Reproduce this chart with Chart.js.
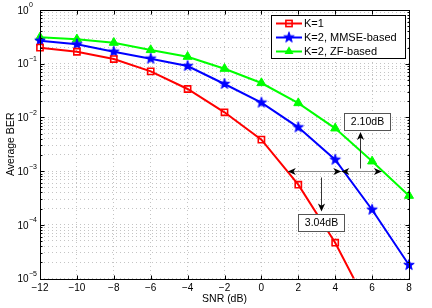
<!DOCTYPE html>
<html><head><meta charset="utf-8">
<script src="https://cdn.jsdelivr.net/npm/chart.js@4/dist/chart.umd.min.js"></script>
<style>html,body{margin:0;padding:0;background:#fff}canvas{display:block}</style>
</head><body>
<canvas id="c" width="432" height="308"></canvas>
<script>
// ---- data ----
const snr      = [-12, -10, -8, -6, -4, -2, 0, 2, 4, 6, 8];
const berK1    = [0.199, 0.167, 0.122, 0.072, 0.0338, 0.01245, 0.00385, 5.58e-4, 4.64e-5, 2.2e-6, null];
const berMMSE  = [0.268, 0.23, 0.167, 0.124, 0.0906, 0.0419, 0.0188, 0.00653, 0.00163, 1.91e-4, 1.78e-5];
const berZF    = [0.31, 0.285, 0.246, 0.18, 0.135, 0.0807, 0.0437, 0.0185, 0.00626, 0.00152, 3.48e-4];
const seriesNames = ['K=1', 'K=2, MMSE-based', 'K=2, ZF-based'];
const xTicks = [-12, -10, -8, -6, -4, -2, 0, 2, 4, 6, 8];
const yExponents = [0, -1, -2, -3, -4, -5];
const xTitle = 'SNR (dB)';
const yTitle = 'Average BER';
// gap annotation (BER level, SNR crossings, labels)
const gapLevel = 1e-3;
const crossK1 = 1.43, crossMMSE = 4.33, crossZF = 6.53;
const gapLabels = ['3.04dB', '2.10dB'];

const FONT = "'Liberation Sans', Arial, Helvetica, sans-serif";

function starImg(color, R) {
  const s = Math.ceil(R * 2 + 3);
  const c = document.createElement('canvas');
  c.width = c.height = s;
  const g = c.getContext('2d');
  g.fillStyle = color; g.strokeStyle = color; g.lineWidth = 1;
  const cx = s / 2, cy = s / 2, r = R * 0.4;
  g.beginPath();
  for (let i = 0; i < 10; i++) {
    const a = -Math.PI / 2 + i * Math.PI / 5;
    const rr = i % 2 ? r : R;
    g.lineTo(cx + rr * Math.cos(a), cy + rr * Math.sin(a));
  }
  g.closePath(); g.fill(); g.stroke();
  return c;
}
const blueStar = starImg('#0000ff', 5.5);

const clipBox = {left: 10, right: 10, top: 10, bottom: 0};
function pts(arr) { return snr.map((x, i) => ({x: x, y: arr[i]})); }

const datasets = [
  {label: seriesNames[0], data: pts(berK1), borderColor: '#ff0000', backgroundColor: 'rgba(0,0,0,0)',
   pointStyle: 'rect', pointRadius: 4.4, pointBorderWidth: 1.6, pointBorderColor: '#ff0000',
   pointBackgroundColor: 'rgba(0,0,0,0)', borderWidth: 2, clip: clipBox},
  {label: seriesNames[1], data: pts(berMMSE), borderColor: '#0000ff', backgroundColor: '#0000ff',
   pointStyle: blueStar, pointRadius: 5.5, borderWidth: 2, clip: clipBox},
  {label: seriesNames[2], data: pts(berZF), borderColor: '#00ff00', backgroundColor: '#00ff00',
   pointStyle: 'triangle', pointRadius: 5.2, pointBorderWidth: 1, pointBorderColor: '#00ff00',
   pointBackgroundColor: '#00ff00', borderWidth: 2, clip: clipBox}
];

function arrowHead(ctx, tx, ty, dx, dy) {
  const L = 8, W = 3.6;
  const px = -dy, py = dx;
  ctx.beginPath();
  ctx.moveTo(tx, ty);
  ctx.lineTo(tx - dx * L + px * W, ty - dy * L + py * W);
  ctx.lineTo(tx - dx * L * 0.72, ty - dy * L * 0.72);
  ctx.lineTo(tx - dx * L - px * W, ty - dy * L - py * W);
  ctx.closePath();
  ctx.fill();
}
function textBox(ctx, cx, cy, text) {
  ctx.font = '10.5px ' + FONT;
  const w = 46, h = 17;
  const x0 = Math.round(cx - w / 2) + 0.5, y0 = Math.round(cy - h / 2) + 0.5;
  ctx.fillStyle = '#fff';
  ctx.fillRect(x0, y0, w, h);
  ctx.strokeStyle = '#555'; ctx.lineWidth = 1;
  ctx.strokeRect(x0, y0, w, h);
  ctx.fillStyle = '#000'; ctx.textAlign = 'center'; ctx.textBaseline = 'middle';
  ctx.fillText(text, x0 + w / 2, y0 + h / 2 + 0.5);
  return {x0, y0, w, h};
}

const decor = {
  id: 'decor',
  afterDatasetsDraw(chart) {
    const ctx = chart.ctx, xs = chart.scales.x, ys = chart.scales.y;
    ctx.save();
    const yl = Math.round(ys.getPixelForValue(gapLevel)) + 0.5;
    const pK = xs.getPixelForValue(crossK1), pM = xs.getPixelForValue(crossMMSE), pZ = xs.getPixelForValue(crossZF);
    ctx.strokeStyle = '#8c8c8c'; ctx.lineWidth = 1;
    ctx.beginPath(); ctx.moveTo(pK, yl); ctx.lineTo(pZ, yl); ctx.stroke();
    ctx.fillStyle = '#000';
    arrowHead(ctx, pK, yl, -1, 0);
    arrowHead(ctx, pM, yl, 1, 0);
    arrowHead(ctx, pM, yl, -1, 0);
    arrowHead(ctx, pZ, yl, 1, 0);
    // label 1 (below)
    const b1 = textBox(ctx, xs.getPixelForValue(3.22), ys.getPixelForValue(1.11e-4), gapLabels[0]);
    const ax1 = Math.round(xs.getPixelForValue(3.25)) + 0.5;
    ctx.strokeStyle = '#333'; ctx.fillStyle = '#000';
    ctx.beginPath(); ctx.moveTo(ax1, yl + 6); ctx.lineTo(ax1, b1.y0 - 5); ctx.stroke();
    arrowHead(ctx, ax1, b1.y0 - 3, 0, 1);
    // label 2 (above)
    const b2 = textBox(ctx, xs.getPixelForValue(5.70), ys.getPixelForValue(8.3e-3), gapLabels[1]);
    const ax2 = Math.round(xs.getPixelForValue(5.37)) + 0.5;
    ctx.strokeStyle = '#333'; ctx.fillStyle = '#000';
    ctx.beginPath(); ctx.moveTo(ax2, yl - 3); ctx.lineTo(ax2, b2.y0 + b2.h + 4); ctx.stroke();
    arrowHead(ctx, ax2, b2.y0 + b2.h + 1.5, 0, -1);
    ctx.restore();
  },
  afterDraw(chart) {
    const ctx = chart.ctx, xs = chart.scales.x, ys = chart.scales.y, a = chart.chartArea;
    ctx.save();
    const L = Math.round(a.left) + 0.5, R = Math.round(a.right) + 0.5, T = Math.round(a.top) + 0.5, B = Math.round(a.bottom) + 0.5;
    // ticks
    ctx.strokeStyle = '#000'; ctx.lineWidth = 1;
    ctx.beginPath();
    xTicks.forEach(v => {
      const x = Math.round(xs.getPixelForValue(v)) + 0.5;
      ctx.moveTo(x, B); ctx.lineTo(x, B - 4);
      ctx.moveTo(x, T); ctx.lineTo(x, T + 4);
    });
    yExponents.forEach(e => {
      for (let m = 1; m <= 9; m++) {
        if (e === 0 && m > 1) break;
        const v = m * Math.pow(10, e);
        const y = Math.round(ys.getPixelForValue(v)) + 0.5;
        const len = m === 1 ? 4 : 2;
        ctx.moveTo(L, y); ctx.lineTo(L + len, y);
        ctx.moveTo(R, y); ctx.lineTo(R - len, y);
      }
    });
    ctx.stroke();
    // box
    ctx.strokeRect(L, T, R - L, B - T);
    // x tick labels
    ctx.fillStyle = '#000';
    ctx.font = '10px ' + FONT; ctx.textAlign = 'center'; ctx.textBaseline = 'middle';
    xTicks.forEach(v => {
      const s = v < 0 ? '\u2212' + Math.abs(v) : String(v);
      ctx.fillText(s, xs.getPixelForValue(v), B + 9);
    });
    // y tick labels
    yExponents.forEach(e => {
      const y = ys.getPixelForValue(Math.pow(10, e));
      ctx.font = '10px ' + FONT; ctx.textAlign = 'right'; ctx.textBaseline = 'middle';
      ctx.fillText('10', 28.5, y + 1);
      ctx.font = '7px ' + FONT; ctx.textAlign = 'left';
      const es = e < 0 ? '\u2212' + Math.abs(e) : String(e);
      ctx.fillText(es, 29, y - 4.5);
    });
    // axis titles
    ctx.font = '10.5px ' + FONT; ctx.textAlign = 'center'; ctx.textBaseline = 'middle';
    ctx.fillText(xTitle, (a.left + a.right) / 2, 299);
    ctx.save();
    ctx.translate(11, (a.top + a.bottom) / 2);
    ctx.rotate(-Math.PI / 2);
    ctx.fillText(yTitle, 0, 0);
    ctx.restore();
    // legend
    const lx = 271.5, ly = 15.5, lw = 134, lh = 43;
    ctx.fillStyle = '#fff'; ctx.fillRect(lx, ly, lw, lh);
    ctx.strokeStyle = '#000'; ctx.strokeRect(lx, ly, lw, lh);
    const rows = [23.5, 37.5, 51.5];
    datasets.forEach((d, i) => {
      const y = rows[i];
      ctx.strokeStyle = d.borderColor; ctx.lineWidth = 2;
      ctx.beginPath(); ctx.moveTo(276, y); ctx.lineTo(302, y); ctx.stroke();
      const mx = 289;
      if (i === 0) {
        ctx.lineWidth = 1.6; ctx.strokeRect(mx - 3.1, y - 3.1, 6.2, 6.2);
      } else if (i === 1) {
        ctx.drawImage(blueStar, mx - blueStar.width / 2, y - blueStar.height / 2);
      } else {
        const r = 5.2;
        ctx.fillStyle = d.borderColor;
        ctx.beginPath();
        ctx.moveTo(mx, y - r);
        ctx.lineTo(mx + r * Math.sin(Math.PI / 3), y + r * 0.5);
        ctx.lineTo(mx - r * Math.sin(Math.PI / 3), y + r * 0.5);
        ctx.closePath(); ctx.fill();
      }
      ctx.fillStyle = '#000'; ctx.font = '11px ' + FONT; ctx.textAlign = 'left'; ctx.textBaseline = 'middle';
      ctx.fillText(d.label, 304, y + 0.5);
    });
    ctx.restore();
  }
};

const gridOpts = {color: '#c4c4c4', lineWidth: 1, drawTicks: false};
const borderOpts = {display: false, dash: [1, 3]};

new Chart(document.getElementById('c'), {
  type: 'line',
  data: {datasets: datasets},
  options: {
    responsive: false,
    devicePixelRatio: 1,
    animation: false,
    events: [],
    layout: {padding: {left: 40, top: 10, right: 23, bottom: 29.5}},
    plugins: {legend: {display: false}, tooltip: {enabled: false}},
    elements: {line: {tension: 0}},
    scales: {
      x: {
        type: 'linear', min: -12, max: 8,
        ticks: {display: false},
        grid: gridOpts, border: borderOpts,
        afterBuildTicks: s => { s.ticks = xTicks.map(v => ({value: v})); }
      },
      y: {
        type: 'logarithmic', min: 1e-5, max: 1,
        ticks: {display: false},
        grid: gridOpts, border: borderOpts,
        afterBuildTicks: s => {
          const t = [];
          yExponents.slice().reverse().forEach(e => {
            for (let m = 1; m <= 9; m++) {
              if (e === 0 && m > 1) break;
              t.push({value: m * Math.pow(10, e)});
            }
          });
          s.ticks = t;
        }
      }
    }
  },
  plugins: [decor]
});
</script>
</body></html>
